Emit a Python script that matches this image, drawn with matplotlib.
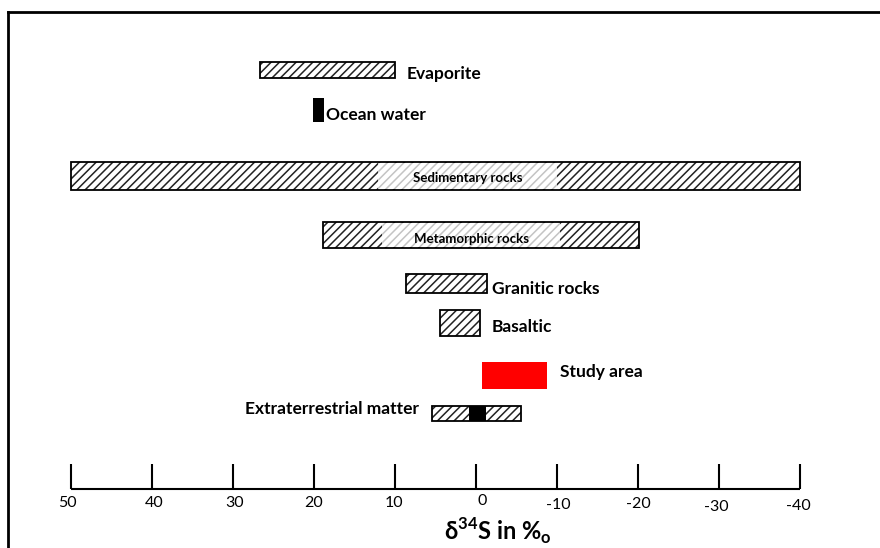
import matplotlib.pyplot as plt
from matplotlib.lines import Line2D

# delta34S ranges (per mil)
names = ["Evaporite", "Ocean water", "Sedimentary rocks", "Metamorphic rocks",
         "Granitic rocks", "Basaltic", "Study area", "Extraterrestrial matter"]
range_hi = [26.7, 20.1, 50.0, 18.9, 8.6, 4.4, -0.7, 5.4]
range_lo = [10.0, 18.8, -40.0, -20.1, -1.4, -0.5, -8.8, -5.6]
kind = ["hatch", "solid", "hatch", "hatch", "hatch", "hatch", "study", "hatch"]

# lighter core part of the wide bars
core_rows = [2, 3]
core_hi = [12.1, 11.6]
core_lo = [-10.0, -10.4]

# black core of extraterrestrial matter
ext_hi = 0.9
ext_lo = -1.2

ticks = [50, 40, 30, 20, 10, 0, -10, -20, -30, -40]

# layout (pixel rows, axes is drawn in pixel-like y units)
row_y = [70, 110, 176, 235, 283.5, 323, 375.5, 413.5]
row_h = [16, 24, 28, 26, 19, 26, 27, 15]
tick_nudge = [(-4, 0), (2, 0), (2, 0), (0, 0), (-1, 0), (6, -2), (1, 2), (0, 1), (-3, 4), (-2, 3)]

plt.rcParams['font.family'] = ['Lato', 'DejaVu Sans']
plt.rcParams['hatch.linewidth'] = 1.1
plt.rcParams['mathtext.fontset'] = 'custom'
plt.rcParams['mathtext.rm'] = 'Lato'
plt.rcParams['mathtext.bf'] = 'Lato:bold'

fig = plt.figure(figsize=(8.8, 5.48), dpi=100)
ax = fig.add_axes([0, 0, 1, 1])
ax.set_xlim(58.77, -49.88)
ax.set_ylim(548, 0)
ax.axis('off')

for i in range(len(names)):
    left = min(range_lo[i], range_hi[i])
    width = abs(range_hi[i] - range_lo[i])
    if kind[i] == "solid":
        ax.barh(row_y[i], width, left=left, height=row_h[i], color='black', linewidth=0)
    elif kind[i] == "study":
        ax.barh(row_y[i], width, left=left, height=row_h[i], color='#ff0000', linewidth=0)
    else:
        ax.barh(row_y[i], width, left=left, height=row_h[i], color='white',
                edgecolor='#222222', hatch='////', linewidth=0)

for j, r in enumerate(core_rows):
    ax.barh(row_y[r], core_hi[j] - core_lo[j], left=core_lo[j], height=row_h[r] - 2,
            color='white', edgecolor='#c4c4c4', hatch='////', linewidth=0)

ax.barh(row_y[7], ext_hi - ext_lo, left=ext_lo, height=row_h[7], color='black', linewidth=0)

# outlines
for i in range(len(names)):
    if kind[i] == "hatch":
        ax.barh(row_y[i], abs(range_hi[i] - range_lo[i]), left=min(range_lo[i], range_hi[i]),
                height=row_h[i], fill=False, edgecolor='black', linewidth=1.3)

# labels
lab = dict(fontsize=12.5, fontweight='bold', va='center')
ax.annotate(names[0], (range_lo[0], row_y[0] + 4), xytext=(8.5, 0), textcoords='offset points', **lab)
ax.annotate(names[1], (range_lo[1], row_y[1] + 5), xytext=(1.5, 0), textcoords='offset points', **lab)
ax.text((core_hi[0] + core_lo[0]) / 2, row_y[2] + 2, names[2], fontsize=9.5, fontweight='bold',
        ha='center', va='center')
ax.text((core_hi[1] + core_lo[1]) / 2, row_y[3] + 4, names[3], fontsize=9.5, fontweight='bold',
        ha='center', va='center')
ax.annotate(names[4], (range_lo[4], row_y[4] + 5), xytext=(3.5, 0), textcoords='offset points', **lab)
ax.annotate(names[5], (range_lo[5], row_y[5] + 4), xytext=(8, 0), textcoords='offset points', **lab)
ax.annotate(names[6], (range_lo[6], row_y[6] - 3), xytext=(9.5, 0), textcoords='offset points', **lab)
ax.annotate(names[7], (range_hi[7], row_y[7] - 4), xytext=(-9.5, 0), textcoords='offset points',
            ha='right', fontsize=12.5, fontweight='bold', va='center')

# x axis drawn as in the original
ax.hlines(489, ticks[0], ticks[-1], color='black', linewidth=1.5)
ax.vlines(ticks, 464, 489, color='black', linewidth=1.5)
for t, (dx, dy) in zip(ticks, tick_nudge):
    ax.annotate(str(t), (t, 503), xytext=(dx * 0.72, -dy * 0.72), textcoords='offset points',
                ha='center', va='center', fontsize=11.5)

fig.text(498 / 880, 1 - 531 / 548, r"δ$^{\mathbf{34}}$S in %$_{\mathbf{o}}$",
         ha='center', va='center', fontsize=17, fontweight='bold')

# page frame
fig.add_artist(Line2D([8 / 880, 8 / 880], [-0.05, 1 - 12 / 548], color='black', linewidth=2,
                      transform=fig.transFigure))
fig.add_artist(Line2D([8 / 880, 1.05], [1 - 12 / 548, 1 - 12 / 548], color='black', linewidth=2,
                      transform=fig.transFigure))

fig.savefig('out.png', dpi=100)
